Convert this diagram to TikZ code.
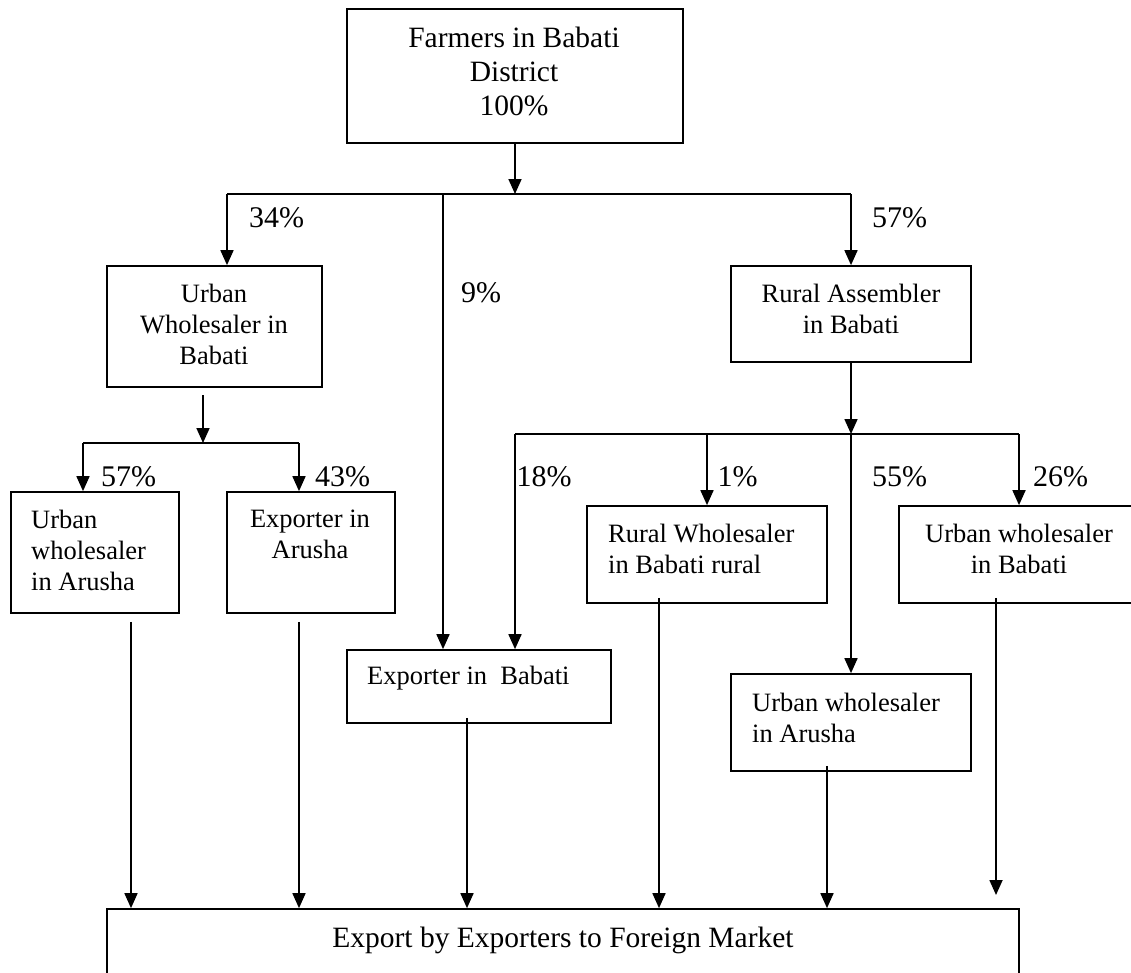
\documentclass[tikz,border=0pt]{standalone}
\usepackage{fontspec}
\setmainfont{Liberation Serif}
\usetikzlibrary{arrows.meta}
\begin{document}
\begin{tikzpicture}[x=1pt,y=-1pt,
  box/.style={draw, line width=1.7pt, inner sep=0pt, fill=none},
  txt/.style={inner sep=0pt, font=\fontsize{26.5}{31}\selectfont, align=center},
  ltxt/.style={inner sep=0pt, font=\fontsize{26.5}{31}\selectfont, align=left, anchor=west},
  big/.style={inner sep=0pt, font=\fontsize{29.5}{34}\selectfont, align=center},
  pct/.style={inner sep=0pt, font=\fontsize{30}{34}\selectfont},
  ln/.style={line width=1.7pt},
  arr/.style={line width=1.7pt, -{Triangle[length=15pt,width=13pt]}}]
\useasboundingbox (0,0) rectangle (1131,972);
\clip (0,0) rectangle (1131,972);
% boxes
\node[box, minimum width=336pt, minimum height=134pt] (top) at (515,76) {};
\node[big] (topt) at (514,71) {Farmers in Babati\\District\\100\%};
\node[box, minimum width=215pt, minimum height=121pt] (uwb) at (214.5,326.5) {};
\node[txt] (uwbt) at (214,324) {Urban\\Wholesaler in\\Babati};
\node[box, minimum width=240pt, minimum height=96pt] (ra) at (851,314) {};
\node[txt] (rat) at (851,309) {Rural Assembler\\in Babati};
\node[box, minimum width=168pt, minimum height=121pt] (uwa1) at (95,552.5) {};
\node[ltxt] (uwa1t) at (31,550) {Urban\\wholesaler\\in Arusha};
\node[box, minimum width=168pt, minimum height=121pt] (ea) at (311,552.5) {};
\node[txt] (eat) at (310,534.5) {Exporter in\\Arusha};
\node[box, minimum width=240pt, minimum height=97pt] (rw) at (707,554.5) {};
\node[ltxt] (rwt) at (608,549) {Rural Wholesaler\\in Babati rural};
\node[box, minimum width=241pt, minimum height=97pt] (uwb2) at (1019.5,554.5) {};
\node[txt] (uwb2t) at (1019,549) {Urban wholesaler\\in Babati};
\node[box, minimum width=264pt, minimum height=73pt] (eb) at (479,686.5) {};
\node[ltxt] (ebt) at (367,678) {Exporter in \ Babati};
\node[box, minimum width=240pt, minimum height=97pt] (uwa2) at (851,722.5) {};
\node[ltxt] (uwa2t) at (752,717.5) {Urban wholesaler\\in Arusha};
\node[box, minimum width=912pt, minimum height=81pt] (fin) at (563,949.5) {};
\node[big] (fint) at (563,940) {Export by Exporters to Foreign Market};
% level 1 junctions
\coordinate (j0) at (515,194);
\coordinate (jL) at (227,194);
\coordinate (j9) at (443,194);
\coordinate (jR) at (851,194);
\draw[arr] (top.south) -- (j0);
\draw[ln] (jL) -- (jR);
\draw[arr] (jL) -- (jL |- uwb.north);
\draw[arr] (j9) -- (j9 |- eb.north);
\draw[arr] (jR) -- (ra.north);
\node[pct] (p34) at (276.5,218) {34\%};
\node[pct] (p9) at (481,293) {9\%};
\node[pct] (p57a) at (899.5,218) {57\%};
% urban wholesaler branch
\coordinate (uo) at (203,395);
\coordinate (jb) at (203,443);
\coordinate (jbL) at (83,443);
\coordinate (jbR) at (299,443);
\draw[arr] (uo) -- (jb);
\draw[ln] (jbL) -- (jbR);
\draw[arr] (jbL) -- (jbL |- uwa1.north);
\draw[arr] (jbR) -- (jbR |- ea.north);
\node[pct] (p57b) at (128.5,477) {57\%};
\node[pct] (p43) at (342.5,477) {43\%};
% rural assembler branch
\coordinate (jc) at (851,434);
\coordinate (jcL) at (515,434);
\coordinate (jc1) at (707,434);
\coordinate (jcR) at (1019,434);
\draw[arr] (ra.south) -- (jc);
\draw[ln] (jcL) -- (jcR);
\draw[arr] (jcL) -- (jcL |- eb.north);
\draw[arr] (jc1) -- (rw.north);
\draw[arr] (jc) -- (uwa2.north);
\draw[arr] (jcR) -- (jcR |- uwb2.north);
\node[pct] (p18) at (544,477) {18\%};
\node[pct] (p1) at (737.5,477) {1\%};
\node[pct] (p55) at (899.5,477) {55\%};
\node[pct] (p26) at (1060.5,477) {26\%};
% lines to final box
\coordinate (o1) at ([xshift=36pt,yshift=-8pt]uwa1.south);
\coordinate (o2) at ([xshift=-12pt,yshift=-8pt]ea.south);
\coordinate (o3) at ([xshift=-12pt,yshift=6pt]eb.south);
\coordinate (o4) at ([xshift=-48pt,yshift=6pt]rw.south);
\coordinate (o5) at ([xshift=-24pt,yshift=6pt]uwa2.south);
\coordinate (o6) at ([xshift=-23.5pt,yshift=6pt]uwb2.south);
\coordinate (e6) at (996,895);
\draw[arr] (o1) -- (o1 |- fin.north);
\draw[arr] (o2) -- (o2 |- fin.north);
\draw[arr] (o3) -- (o3 |- fin.north);
\draw[arr] (o4) -- (o4 |- fin.north);
\draw[arr] (o5) -- (o5 |- fin.north);
\draw[arr] (o6) -- (e6);
\end{tikzpicture}
\end{document}
